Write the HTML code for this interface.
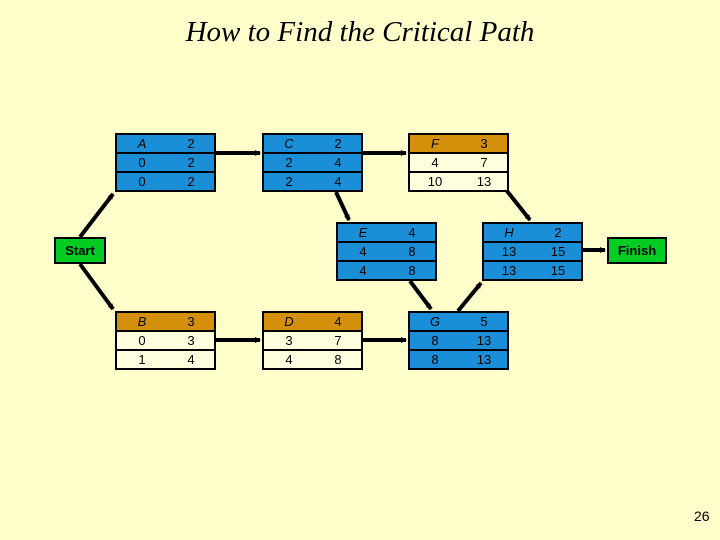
<!DOCTYPE html>
<html><head><style>
body{margin:0;width:720px;height:540px;background:#ffffcc;position:relative;overflow:hidden;font-family:"Liberation Sans",sans-serif}
.t{position:absolute;left:0;width:720px;top:16px;text-align:center;font:italic 29px "Liberation Serif",serif;color:#000}
.b{position:absolute;width:97px;border:2px solid #000;background:#000}
.r{height:17px;margin-top:2px;display:flex;font-size:13px;line-height:17px;color:#000}
.r:first-child{margin-top:0}
.r span{position:absolute;width:20px;text-align:center}
.bl{background:#1a8fd8}.or{background:#d4900a}.wh{background:#ffffe0}
.g{position:absolute;background:#00cc22;border:2px solid #000;font-size:13px;font-weight:bold;text-align:center;line-height:23px}
i{font-style:italic}
</style></head><body>
<div class="t">How to Find the Critical Path</div>
<svg width="720" height="540" style="position:absolute;left:0;top:0">
<defs><marker id="a" markerWidth="6" markerHeight="6" refX="5" refY="3" orient="auto" markerUnits="userSpaceOnUse"><path d="M0,0L6,3L0,6z" fill="#000"/></marker></defs>
<g stroke="#000" stroke-width="4" marker-end="url(#a)">
<line x1="80" y1="237" x2="113" y2="194"/>
<line x1="80" y1="264" x2="113" y2="309"/>
<line x1="216" y1="153" x2="260" y2="153"/>
<line x1="363" y1="153" x2="406" y2="153"/>
<line x1="336" y1="192" x2="349" y2="220"/>
<line x1="216" y1="340" x2="260" y2="340"/>
<line x1="363" y1="340" x2="406" y2="340"/>
<line x1="410" y1="281" x2="431" y2="309"/>
<line x1="458" y1="311" x2="481" y2="283"/>
<line x1="507" y1="191" x2="530" y2="220"/>
<line x1="583" y1="250" x2="605" y2="250"/>
</g></svg>
<div class="b" style="left:115px;top:133px"><div class="r bl"><span style="left:15px"><i>A</i></span><span style="left:64px">2</span></div><div class="r bl"><span style="left:15px">0</span><span style="left:64px">2</span></div><div class="r bl"><span style="left:15px">0</span><span style="left:64px">2</span></div></div>
<div class="b" style="left:262px;top:133px"><div class="r bl"><span style="left:15px"><i>C</i></span><span style="left:64px">2</span></div><div class="r bl"><span style="left:15px">2</span><span style="left:64px">4</span></div><div class="r bl"><span style="left:15px">2</span><span style="left:64px">4</span></div></div>
<div class="b" style="left:408px;top:133px"><div class="r or"><span style="left:15px"><i>F</i></span><span style="left:64px">3</span></div><div class="r wh"><span style="left:15px">4</span><span style="left:64px">7</span></div><div class="r wh"><span style="left:15px">10</span><span style="left:64px">13</span></div></div>
<div class="b" style="left:336px;top:222px"><div class="r bl"><span style="left:15px"><i>E</i></span><span style="left:64px">4</span></div><div class="r bl"><span style="left:15px">4</span><span style="left:64px">8</span></div><div class="r bl"><span style="left:15px">4</span><span style="left:64px">8</span></div></div>
<div class="b" style="left:482px;top:222px"><div class="r bl"><span style="left:15px"><i>H</i></span><span style="left:64px">2</span></div><div class="r bl"><span style="left:15px">13</span><span style="left:64px">15</span></div><div class="r bl"><span style="left:15px">13</span><span style="left:64px">15</span></div></div>
<div class="b" style="left:115px;top:311px"><div class="r or"><span style="left:15px"><i>B</i></span><span style="left:64px">3</span></div><div class="r wh"><span style="left:15px">0</span><span style="left:64px">3</span></div><div class="r wh"><span style="left:15px">1</span><span style="left:64px">4</span></div></div>
<div class="b" style="left:262px;top:311px"><div class="r or"><span style="left:15px"><i>D</i></span><span style="left:64px">4</span></div><div class="r wh"><span style="left:15px">3</span><span style="left:64px">7</span></div><div class="r wh"><span style="left:15px">4</span><span style="left:64px">8</span></div></div>
<div class="b" style="left:408px;top:311px"><div class="r bl"><span style="left:15px"><i>G</i></span><span style="left:64px">5</span></div><div class="r bl"><span style="left:15px">8</span><span style="left:64px">13</span></div><div class="r bl"><span style="left:15px">8</span><span style="left:64px">13</span></div></div>
<div class="g" style="left:54px;top:237px;width:48px;height:23px">Start</div>
<div class="g" style="left:607px;top:237px;width:56px;height:23px">Finish</div>
<div style="position:absolute;left:694px;top:508px;font-size:14px">26</div>
</body></html>
